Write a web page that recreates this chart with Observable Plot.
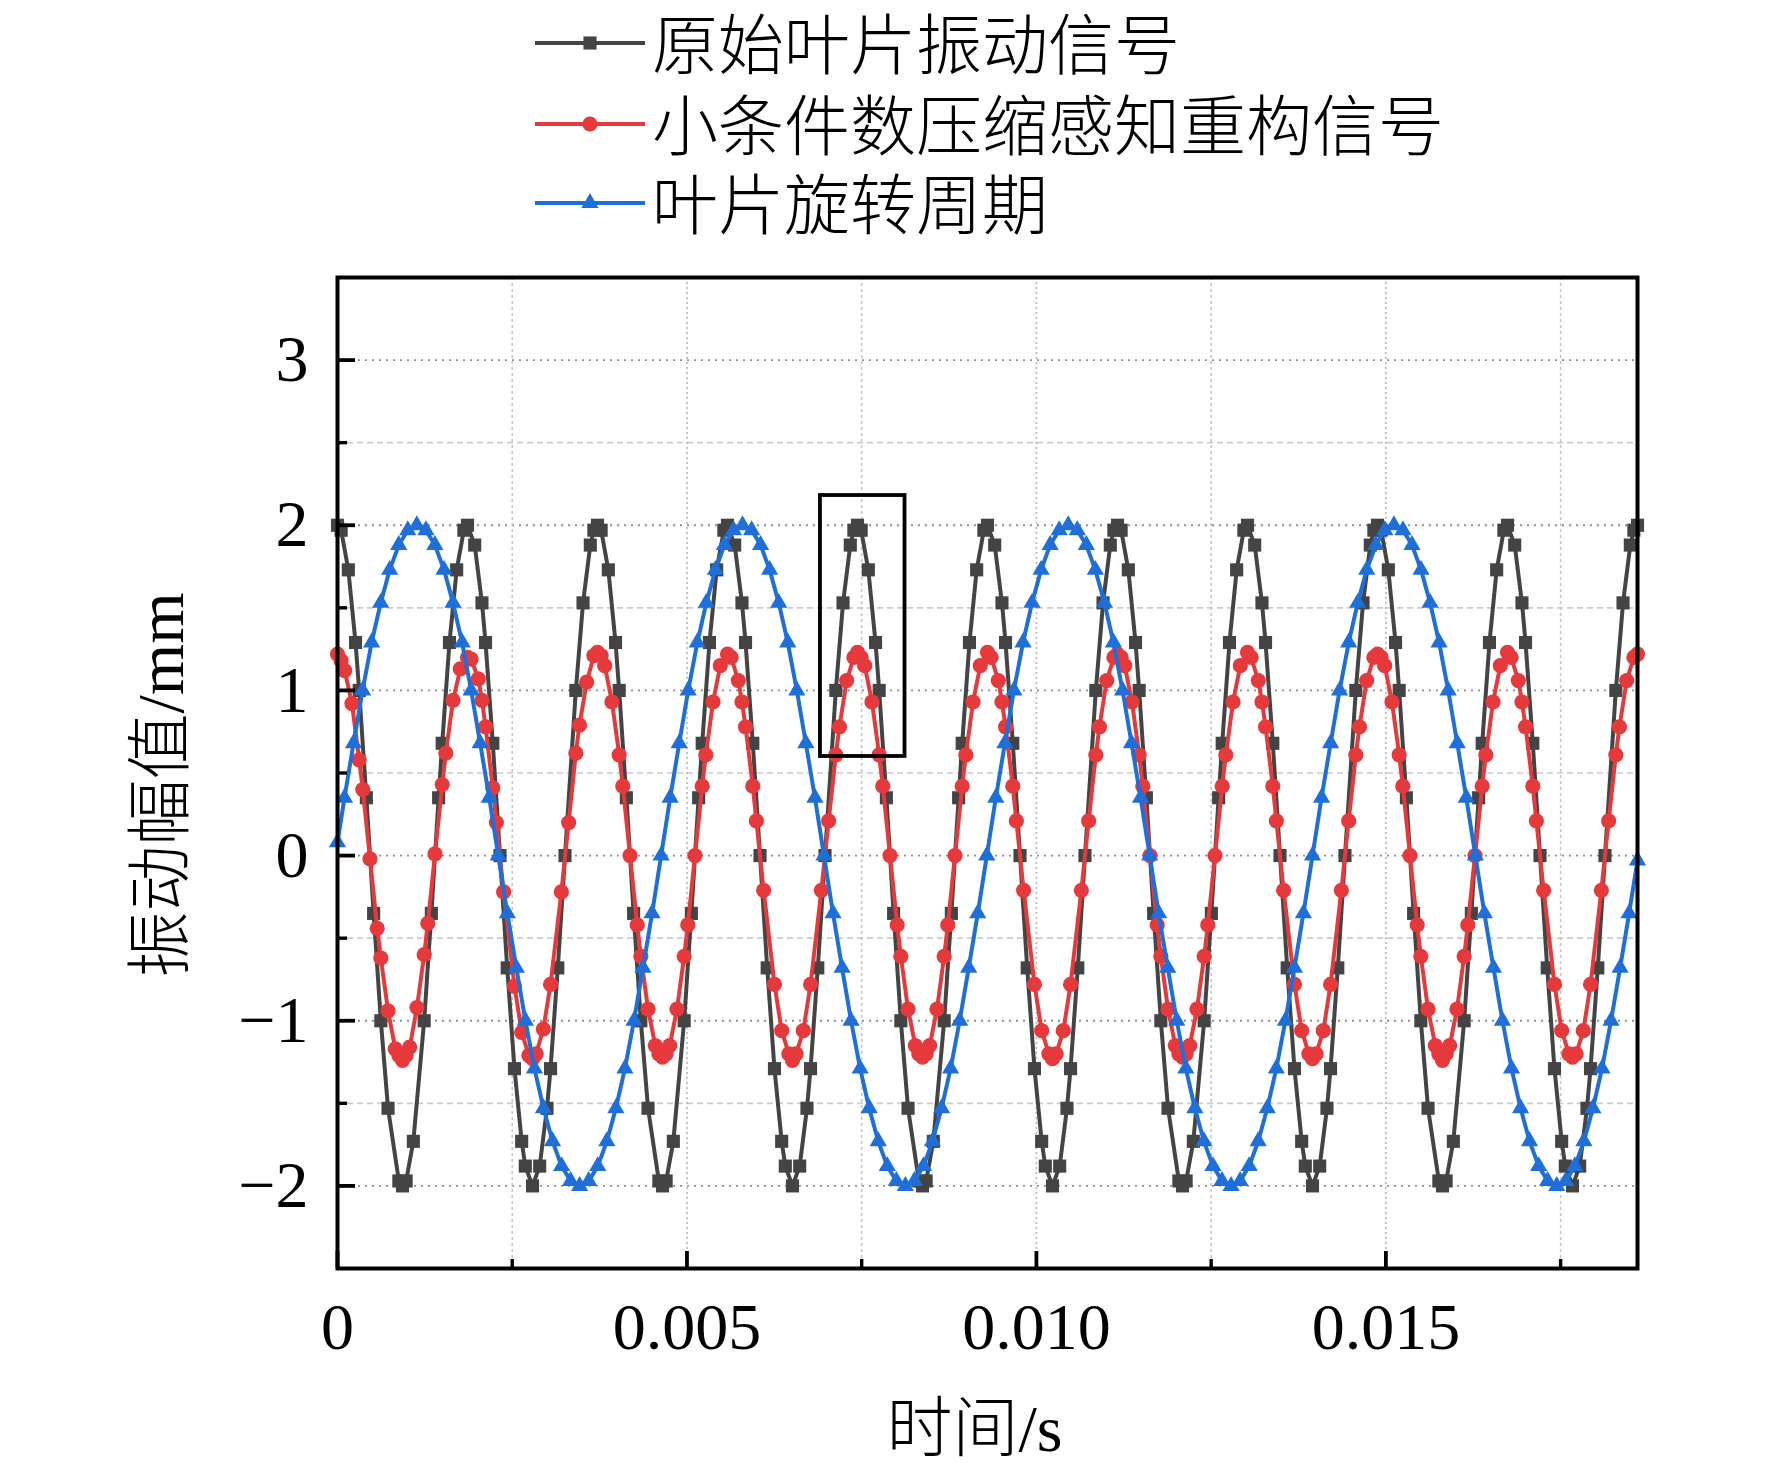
<!DOCTYPE html>
<html>
<head>
<meta charset="utf-8">
<script src="https://cdn.jsdelivr.net/npm/d3@7"></script>
<script src="https://cdn.jsdelivr.net/npm/@observablehq/plot@0.6"></script>
<style>
  html, body { margin: 0; padding: 0; background: #ffffff; }
  #wrap { position: relative; width: 1772px; height: 1472px; }
  #legend { position: absolute; left: 0; top: 0; pointer-events: none; }
</style>
</head>
<body>
<div id="wrap"></div>
<script>
// ---------- data (time in ms, amplitude in mm) ----------
const seriesNames = ["原始叶片振动信号", "小条件数压缩感知重构信号", "叶片旋转周期"];
const seriesColors = ["#444444", "#e6393c", "#1e6fd9"];
const seriesSymbols = ["square", "circle", "triangle"];

const blackTimeMs = [
  0.000, 0.052, 0.155, 0.258, 0.310, 0.413, 0.517, 0.620, 0.723, 0.878, 0.930, 0.982, 1.085, 1.240, 1.343, 1.447, 1.498, 1.602, 1.705, 1.808,
  1.860, 1.963, 2.067, 2.118, 2.222, 2.325, 2.428, 2.532, 2.635, 2.687, 2.790, 2.893, 2.997, 3.048, 3.152, 3.255, 3.410, 3.513, 3.617, 3.668,
  3.720, 3.772, 3.875, 3.978, 4.030, 4.133, 4.237, 4.340, 4.443, 4.598, 4.650, 4.702, 4.805, 4.960, 5.063, 5.167, 5.218, 5.322, 5.425, 5.528,
  5.580, 5.683, 5.787, 5.838, 5.942, 6.045, 6.148, 6.252, 6.355, 6.407, 6.510, 6.613, 6.717, 6.768, 6.872, 6.975, 7.130, 7.233, 7.337, 7.388,
  7.440, 7.492, 7.595, 7.698, 7.750, 7.853, 7.957, 8.060, 8.163, 8.318, 8.370, 8.422, 8.525, 8.680, 8.783, 8.887, 8.938, 9.042, 9.145, 9.248,
  9.300, 9.403, 9.507, 9.558, 9.662, 9.765, 9.868, 9.972, 10.075, 10.127, 10.230, 10.333, 10.437, 10.488, 10.592, 10.695, 10.850, 10.953, 11.057, 11.108,
  11.160, 11.212, 11.315, 11.418, 11.470, 11.573, 11.677, 11.780, 11.883, 12.038, 12.090, 12.142, 12.245, 12.400, 12.503, 12.607, 12.658, 12.762, 12.865, 12.968,
  13.020, 13.123, 13.227, 13.278, 13.382, 13.485, 13.588, 13.692, 13.795, 13.847, 13.950, 14.053, 14.157, 14.208, 14.312, 14.415, 14.570, 14.673, 14.777, 14.828,
  14.880, 14.932, 15.035, 15.138, 15.190, 15.293, 15.397, 15.500, 15.603, 15.758, 15.810, 15.862, 15.965, 16.120, 16.223, 16.327, 16.378, 16.482, 16.585, 16.688,
  16.740, 16.843, 16.947, 16.998, 17.102, 17.205, 17.308, 17.412, 17.515, 17.567, 17.670, 17.773, 17.877, 17.928, 18.032, 18.135, 18.290, 18.393, 18.497, 18.548, 18.600
];
const blackAmp = [
  2.00, 1.97, 1.73, 1.29, 1.00, 0.35, -0.35, -1.00, -1.53, -1.97, -2.00, -1.97, -1.73, -1.00, -0.35, 0.35, 0.68, 1.29, 1.73, 1.97,
  2.00, 1.88, 1.53, 1.29, 0.68, 0.00, -0.68, -1.29, -1.73, -1.88, -2.00, -1.88, -1.53, -1.29, -0.68, 0.00, 1.00, 1.53, 1.88, 1.97,
  2.00, 1.97, 1.73, 1.29, 1.00, 0.35, -0.35, -1.00, -1.53, -1.97, -2.00, -1.97, -1.73, -1.00, -0.35, 0.35, 0.68, 1.29, 1.73, 1.97,
  2.00, 1.88, 1.53, 1.29, 0.68, 0.00, -0.68, -1.29, -1.73, -1.88, -2.00, -1.88, -1.53, -1.29, -0.68, 0.00, 1.00, 1.53, 1.88, 1.97,
  2.00, 1.97, 1.73, 1.29, 1.00, 0.35, -0.35, -1.00, -1.53, -1.97, -2.00, -1.97, -1.73, -1.00, -0.35, 0.35, 0.68, 1.29, 1.73, 1.97,
  2.00, 1.88, 1.53, 1.29, 0.68, 0.00, -0.68, -1.29, -1.73, -1.88, -2.00, -1.88, -1.53, -1.29, -0.68, 0.00, 1.00, 1.53, 1.88, 1.97,
  2.00, 1.97, 1.73, 1.29, 1.00, 0.35, -0.35, -1.00, -1.53, -1.97, -2.00, -1.97, -1.73, -1.00, -0.35, 0.35, 0.68, 1.29, 1.73, 1.97,
  2.00, 1.88, 1.53, 1.29, 0.68, 0.00, -0.68, -1.29, -1.73, -1.88, -2.00, -1.88, -1.53, -1.29, -0.68, 0.00, 1.00, 1.53, 1.88, 1.97,
  2.00, 1.97, 1.73, 1.29, 1.00, 0.35, -0.35, -1.00, -1.53, -1.97, -2.00, -1.97, -1.73, -1.00, -0.35, 0.35, 0.68, 1.29, 1.73, 1.97,
  2.00, 1.88, 1.53, 1.29, 0.68, 0.00, -0.68, -1.29, -1.73, -1.88, -2.00, -1.88, -1.53, -1.29, -0.68, 0.00, 1.00, 1.53, 1.88, 1.97, 2.00
];

const redTimeMs = [
  0.000, 0.052, 0.103, 0.207, 0.310, 0.362, 0.465, 0.568, 0.620, 0.723, 0.827, 0.878, 0.930, 0.982, 1.033, 1.137, 1.240, 1.292, 1.395, 1.498, 1.550, 1.653, 1.757,
  1.860, 1.912, 2.015, 2.067, 2.118, 2.222, 2.273, 2.377, 2.532, 2.635, 2.738, 2.790, 2.842, 2.945, 3.048, 3.203, 3.307, 3.410, 3.462, 3.565, 3.668,
  3.720, 3.772, 3.823, 3.927, 4.030, 4.082, 4.185, 4.288, 4.340, 4.443, 4.547, 4.598, 4.650, 4.702, 4.753, 4.857, 4.960, 5.012, 5.115, 5.218, 5.270, 5.373, 5.477,
  5.580, 5.632, 5.735, 5.787, 5.838, 5.942, 5.993, 6.097, 6.252, 6.355, 6.458, 6.510, 6.562, 6.665, 6.768, 6.923, 7.027, 7.130, 7.182, 7.285, 7.388,
  7.440, 7.492, 7.543, 7.647, 7.750, 7.802, 7.905, 8.008, 8.060, 8.163, 8.267, 8.318, 8.370, 8.422, 8.473, 8.577, 8.680, 8.732, 8.835, 8.938, 8.990, 9.093, 9.197,
  9.300, 9.352, 9.455, 9.507, 9.558, 9.662, 9.713, 9.817, 9.972, 10.075, 10.178, 10.230, 10.282, 10.385, 10.488, 10.643, 10.747, 10.850, 10.902, 11.005, 11.108,
  11.160, 11.212, 11.263, 11.367, 11.470, 11.522, 11.625, 11.728, 11.780, 11.883, 11.987, 12.038, 12.090, 12.142, 12.193, 12.297, 12.400, 12.452, 12.555, 12.658, 12.710, 12.813, 12.917,
  13.020, 13.072, 13.175, 13.227, 13.278, 13.382, 13.433, 13.537, 13.692, 13.795, 13.898, 13.950, 14.002, 14.105, 14.208, 14.363, 14.467, 14.570, 14.622, 14.725, 14.828,
  14.880, 14.932, 14.983, 15.087, 15.190, 15.242, 15.345, 15.448, 15.500, 15.603, 15.707, 15.758, 15.810, 15.862, 15.913, 16.017, 16.120, 16.172, 16.275, 16.378, 16.430, 16.533, 16.637,
  16.740, 16.792, 16.895, 16.947, 16.998, 17.102, 17.153, 17.257, 17.412, 17.515, 17.618, 17.670, 17.722, 17.825, 17.928, 18.083, 18.187, 18.290, 18.342, 18.445, 18.548, 18.600
];
const redAmp = [
  1.22, 1.18, 1.12, 0.92, 0.58, 0.40, -0.02, -0.44, -0.62, -0.94, -1.17, -1.21, -1.24, -1.21, -1.16, -0.92, -0.60, -0.41, 0.01, 0.43, 0.62, 0.94, 1.13,
  1.20, 1.19, 1.07, 0.94, 0.78, 0.41, 0.20, -0.22, -0.79, -1.07, -1.21, -1.23, -1.20, -1.05, -0.78, -0.22, 0.20, 0.62, 0.79, 1.05, 1.21,
  1.23, 1.21, 1.15, 0.93, 0.61, 0.42, 0.00, -0.42, -0.61, -0.93, -1.15, -1.20, -1.22, -1.20, -1.15, -0.93, -0.61, -0.42, 0.00, 0.42, 0.61, 0.93, 1.15,
  1.22, 1.20, 1.06, 0.93, 0.78, 0.42, 0.21, -0.21, -0.78, -1.06, -1.20, -1.24, -1.20, -1.06, -0.78, -0.21, 0.21, 0.61, 0.78, 1.06, 1.20,
  1.23, 1.20, 1.15, 0.93, 0.61, 0.42, 0.00, -0.42, -0.61, -0.93, -1.15, -1.20, -1.22, -1.20, -1.15, -0.93, -0.61, -0.42, 0.00, 0.42, 0.61, 0.93, 1.15,
  1.23, 1.20, 1.06, 0.93, 0.78, 0.42, 0.21, -0.21, -0.78, -1.06, -1.20, -1.23, -1.20, -1.06, -0.78, -0.21, 0.21, 0.61, 0.78, 1.06, 1.20,
  1.22, 1.20, 1.15, 0.93, 0.61, 0.42, 0.00, -0.42, -0.61, -0.93, -1.15, -1.20, -1.22, -1.20, -1.15, -0.93, -0.61, -0.42, 0.00, 0.42, 0.61, 0.93, 1.15,
  1.23, 1.20, 1.06, 0.93, 0.78, 0.42, 0.21, -0.21, -0.78, -1.06, -1.20, -1.23, -1.20, -1.06, -0.78, -0.21, 0.21, 0.61, 0.78, 1.06, 1.20,
  1.22, 1.20, 1.15, 0.93, 0.61, 0.42, 0.00, -0.42, -0.61, -0.93, -1.15, -1.20, -1.24, -1.20, -1.15, -0.93, -0.61, -0.42, 0.00, 0.42, 0.61, 0.93, 1.15,
  1.23, 1.20, 1.06, 0.93, 0.78, 0.42, 0.21, -0.21, -0.78, -1.06, -1.20, -1.22, -1.20, -1.06, -0.78, -0.21, 0.21, 0.61, 0.78, 1.06, 1.20, 1.22
];

const blueTimeMs = [
  0.000, 0.100, 0.229, 0.359, 0.488, 0.618, 0.747, 0.876, 1.006, 1.135, 1.265, 1.394, 1.524, 1.653, 1.783, 1.912, 2.041, 2.171, 2.300, 2.430, 2.559, 2.689, 2.818, 2.947, 3.077, 3.206, 3.336, 3.465, 3.595, 3.724, 3.854, 3.983, 4.112, 4.242, 4.371, 4.501, 4.630,
  4.760, 4.889, 5.018, 5.148, 5.277, 5.407, 5.536, 5.666, 5.795, 5.925, 6.054, 6.183, 6.313, 6.442, 6.572, 6.701, 6.831, 6.960, 7.090, 7.219, 7.348, 7.478, 7.607, 7.737, 7.866, 7.996, 8.125, 8.254, 8.384, 8.513, 8.643, 8.772, 8.902, 9.031, 9.161, 9.290,
  9.419, 9.549, 9.678, 9.808, 9.937, 10.067, 10.196, 10.326, 10.455, 10.584, 10.714, 10.843, 10.973, 11.102, 11.232, 11.361, 11.490, 11.620, 11.749, 11.879, 12.008, 12.138, 12.267, 12.397, 12.526, 12.655, 12.785, 12.914, 13.044, 13.173, 13.303, 13.432, 13.562, 13.691, 13.820, 13.950,
  14.079, 14.209, 14.338, 14.468, 14.597, 14.726, 14.856, 14.985, 15.115, 15.244, 15.374, 15.503, 15.633, 15.762, 15.891, 16.021, 16.150, 16.280, 16.409, 16.539, 16.668, 16.798, 16.927, 17.056, 17.186, 17.315, 17.445, 17.574, 17.704, 17.833, 17.962, 18.092, 18.221, 18.351, 18.480, 18.600
];
const blueAmp = [
  0.08, 0.35, 0.68, 1.00, 1.29, 1.53, 1.73, 1.88, 1.97, 2.00, 1.97, 1.88, 1.73, 1.53, 1.29, 1.00, 0.68, 0.35, 0.00, -0.35, -0.68, -1.00, -1.29, -1.53, -1.73, -1.88, -1.97, -2.00, -1.97, -1.88, -1.73, -1.53, -1.29, -1.00, -0.68, -0.35, 0.00,
  0.35, 0.68, 1.00, 1.29, 1.53, 1.73, 1.88, 1.97, 2.00, 1.97, 1.88, 1.73, 1.53, 1.29, 1.00, 0.68, 0.35, 0.00, -0.35, -0.68, -1.00, -1.29, -1.53, -1.73, -1.88, -1.97, -2.00, -1.97, -1.88, -1.73, -1.53, -1.29, -1.00, -0.68, -0.35, 0.00,
  0.35, 0.68, 1.00, 1.29, 1.53, 1.73, 1.88, 1.97, 2.00, 1.97, 1.88, 1.73, 1.53, 1.29, 1.00, 0.68, 0.35, 0.00, -0.35, -0.68, -1.00, -1.29, -1.53, -1.73, -1.88, -1.97, -2.00, -1.97, -1.88, -1.73, -1.53, -1.29, -1.00, -0.68, -0.35, 0.00,
  0.35, 0.68, 1.00, 1.29, 1.53, 1.73, 1.88, 1.97, 2.00, 1.97, 1.88, 1.73, 1.53, 1.29, 1.00, 0.68, 0.35, 0.00, -0.35, -0.68, -1.00, -1.29, -1.53, -1.73, -1.88, -1.97, -2.00, -1.97, -1.88, -1.73, -1.53, -1.29, -1.00, -0.68, -0.35, -0.03
];

// annotation box (time in ms, amplitude in mm)
const boxTimeMs = [6.91, 8.12];
const boxAmp = [0.60, 2.18];

// axes
const xDomainS = [0, 0.0186];
const yDomain = [-2.5, 3.5];
const xTickValues = [0, 0.005, 0.010, 0.015];
const xTickLabels = ["0", "0.005", "0.010", "0.015"];
const xMinorValues = [0.0025, 0.0075, 0.0125, 0.0175];
const yTickValues = [-2, -1, 0, 1, 2, 3];
const yTickLabels = ["−2", "−1", "0", "1", "2", "3"];
const yMinorValues = [-1.5, -0.5, 0.5, 1.5, 2.5];
const xTitle = "时间/s";
const yTitle = "振动幅值/mm";

// ---------- build tables ----------
const toRows = (ts, ys) => ts.map((t, i) => ({ t: t / 1000, v: ys[i] }));
const tables = [toRows(blackTimeMs, blackAmp), toRows(redTimeMs, redAmp), toRows(blueTimeMs, blueAmp)];
const box = [{ x1: boxTimeMs[0] / 1000, x2: boxTimeMs[1] / 1000, y1: boxAmp[0], y2: boxAmp[1] }];

// ---------- layout ----------
const W = 1772, H = 1472;
const mL = 337, mR = 135, mT = 277, mB = 204;
const innerW = W - mL - mR, innerH = H - mT - mB;
const serif = "'Liberation Serif','Times New Roman','Noto Sans CJK SC',serif";
const symbolR = [7.4, 7.6, 6.4];
const lineW = 4;

const seriesMarks = [];
tables.forEach((rows, i) => {
  seriesMarks.push(Plot.line(rows, { x: "t", y: "v", stroke: seriesColors[i], strokeWidth: lineW, curve: "linear" }));
  seriesMarks.push(Plot.dot(rows, { x: "t", y: "v", symbol: seriesSymbols[i], r: symbolR[i], fill: seriesColors[i], stroke: "none" }));
});

const chart = Plot.plot({
  width: W, height: H,
  marginLeft: mL, marginRight: mR, marginTop: mT, marginBottom: mB,
  style: { fontFamily: serif, background: "white", overflow: "visible" },
  x: { domain: xDomainS },
  y: { domain: yDomain },
  marks: [
    // grid
    Plot.ruleY(yMinorValues, { y: d => d, stroke: "#cccccc", strokeWidth: 1.6, strokeDasharray: "6,4" }),
    Plot.ruleY(yTickValues, { y: d => d, stroke: "#8f8f8f", strokeWidth: 1.8, strokeDasharray: "2,5" }),
    Plot.ruleX(xMinorValues, { x: d => d, stroke: "#c6c6c6", strokeWidth: 1.6, strokeDasharray: "3,3" }),
    Plot.ruleX(xTickValues.slice(1), { x: d => d, stroke: "#b5b5b5", strokeWidth: 1.6, strokeDasharray: "2,3" }),
    // series
    ...seriesMarks,
    // annotation box
    Plot.rect(box, { x1: "x1", x2: "x2", y1: "y1", y2: "y2", fill: "none", stroke: "#000", strokeWidth: 3.8 }),
    // frame
    Plot.frame({ stroke: "#000", strokeWidth: 4 }),
    // inward ticks
    Plot.tickY(yTickValues, { y: d => d, stroke: "#000", strokeWidth: 3.8, insetRight: innerW - 18 }),
    Plot.tickY(yMinorValues, { y: d => d, stroke: "#000", strokeWidth: 3.4, insetRight: innerW - 10 }),
    Plot.tickX(xTickValues, { x: d => d, stroke: "#000", strokeWidth: 3.8, insetTop: innerH - 17 }),
    Plot.tickX(xMinorValues, { x: d => d, stroke: "#000", strokeWidth: 3.4, insetTop: innerH - 9 }),
    // axis labels
    Plot.axisY({ ticks: yTickValues, tickSize: 0, tickPadding: 29, fontSize: 66, fontFamily: serif, label: null,
      tickFormat: d => yTickLabels[yTickValues.indexOf(d)] }),
    Plot.axisX({ ticks: xTickValues, tickSize: 0, tickPadding: 34, fontSize: 66, fontFamily: serif, label: null,
      tickFormat: d => xTickLabels[xTickValues.indexOf(d)] }),
    // axis titles
    Plot.text([yTitle], { text: d => d, frameAnchor: "left", dx: -176, dy: 12, rotate: -90, fontSize: 66,
      fontFamily: serif, fontWeight: 300, fill: "#000", textAnchor: "middle", lineAnchor: "middle" }),
    Plot.text([xTitle], { text: d => d, frameAnchor: "bottom", dx: -13, dy: 161, fontSize: 66,
      fontFamily: serif, fontWeight: 300, fill: "#000", textAnchor: "middle", lineAnchor: "middle" })
  ]
});

const wrap = document.getElementById("wrap");
wrap.appendChild(chart);

// ---------- legend (above the plot frame) ----------
const leg = d3.create("svg").attr("id", "legend").attr("width", W).attr("height", 260)
  .attr("viewBox", `0 0 ${W} 260`);
const rowY = [43, 124, 203];
const lineX1 = 535, lineX2 = 645, symX = 590, textX = 652;
seriesNames.forEach((name, i) => {
  const g = leg.append("g");
  g.append("line").attr("x1", lineX1).attr("x2", lineX2).attr("y1", rowY[i]).attr("y2", rowY[i])
    .attr("stroke", seriesColors[i]).attr("stroke-width", lineW);
  const symType = [d3.symbolSquare, d3.symbolCircle, d3.symbolTriangle][i];
  g.append("path").attr("d", d3.symbol(symType, Math.PI * symbolR[i] * symbolR[i])())
    .attr("transform", `translate(${symX},${rowY[i]})`).attr("fill", seriesColors[i]);
  g.append("text").attr("x", textX).attr("y", rowY[i] + 3).attr("dominant-baseline", "central")
    .attr("font-family", serif).attr("font-weight", 300).attr("font-size", 66).attr("fill", "#000").text(name);
});
wrap.appendChild(leg.node());
</script>
</body>
</html>
